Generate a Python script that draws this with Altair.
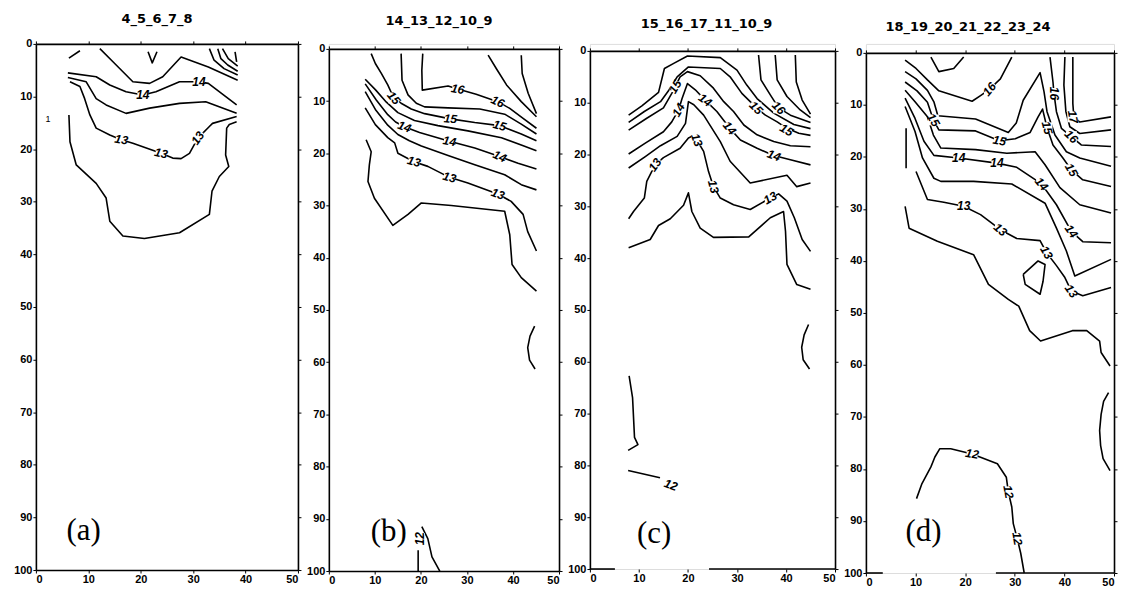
import altair as alt
import pandas as pd

# ---------------- panel (a) ----------------
a_title = "4_5_6_7_8"
a_dash = [(6.3, 2.7), (8.4, 1.3)]
a_vee = [(21.4, 1.5), (22.2, 3.6), (23.1, 1.5)]
a_arc1 = [(33.1, 0.9), (34.0, 3.1), (35.9, 4.7), (38.5, 5.9)]
a_arc2 = [(34.7, 0.9), (35.3, 2.8), (36.6, 4.0), (38.5, 5.2)]
a_arc3 = [(35.6, 0.9), (36.7, 2.8), (38.5, 4.2)]
a_arc4 = [(38.0, 1.5), (38.3, 3.4)]
a_145 = [(12.2, 0.9), (14.7, 3.4), (18.5, 7.2), (21.7, 7.5), (24.2, 6.25), (27.7, 2.5), (32.9, 4.4), (38.5, 6.9)]
a_14 = [(6.1, 5.5), (11.5, 6.25), (14.1, 7.8), (17.2, 9.1), (20.4, 9.7), (22.9, 9.1), (27.4, 7.2), (31.1, 7.2), (32.9, 7.5), (38.3, 11.6)]
a_135 = [(6.1, 6.4), (9.6, 7.2), (11.5, 10.4), (13.4, 11.6), (17.2, 13.2), (21.7, 12.2), (27.4, 11.3), (32.4, 11.0), (38.3, 13.2)]
a_13 = [(6.5, 7.2), (8.4, 8.1), (9.3, 10.4), (10.3, 13.5), (11.5, 16.0), (14.1, 17.3), (16.3, 18.2), (18.5, 18.9),
        (23.9, 20.8), (26.1, 21.7), (27.7, 21.8), (29.3, 20.8), (30.9, 17.9), (33.1, 15.7), (33.7, 15.1), (38.3, 13.8)]
a_125 = [(6.3, 13.5), (6.5, 18.6), (7.7, 23.0), (11.5, 26.5), (13.4, 29.3), (14.1, 33.7), (16.6, 36.5), (20.7, 37.0),
         (27.4, 35.9), (33.1, 32.4), (33.6, 28.0), (35.0, 25.2), (36.8, 23.3), (36.2, 21.1), (36.4, 16.0), (36.9, 15.3), (38.3, 14.8)]
a_labels = [("14", 20.4, 9.7, 0), ("14", 31.1, 7.2, 0), ("13", 16.3, 18.2, 10),
            ("13", 23.9, 20.8, 12), ("13", 30.9, 17.9, 305)]
a_notes = [("1", 2.3, 14.2)]
a_tag = ("(a)", 9.1, 92.6)

# ---------------- panel (b) ----------------
b_title = "14_13_12_10_9"
b_16a = [(34.6, 1.2), (36.4, 3.8), (38.6, 6.9), (41.8, 10.1), (45.1, 13.0)]
b_16b = [(41.8, 1.2), (42.0, 4.7), (43.3, 8.5), (45.1, 12.4)]
b_16 = [(20.4, 0.9), (20.2, 4.1), (20.3, 7.9), (25.9, 7.1), (28.0, 7.7), (32.0, 8.7), (36.7, 10.1), (39.3, 11.4), (42.2, 13.3), (45.1, 15.2)]
b_155 = [(15.7, 0.9), (15.9, 6.0), (17.2, 8.8), (19.0, 10.4), (20.8, 11.1), (25.9, 11.3), (32.8, 11.5), (38.2, 12.5), (41.8, 14.4), (45.1, 16.3)]
b_15 = [(9.2, 0.9), (10.1, 2.8), (11.4, 4.7), (12.8, 6.9), (14.1, 9.4), (15.7, 10.4), (17.9, 11.5), (20.8, 12.4),
        (26.4, 13.4), (31.7, 14.1), (37.1, 14.7), (41.8, 16.3), (45.1, 17.6)]
b_145 = [(7.9, 5.8), (10.1, 7.8), (12.5, 10.2), (15.0, 12.2), (18.6, 13.7), (23.7, 14.7), (30.2, 15.7), (37.5, 17.0), (41.8, 18.4), (45.1, 19.5)]
b_14 = [(7.9, 6.7), (10.3, 9.8), (12.8, 12.6), (14.5, 14.0), (16.4, 14.9), (19.7, 16.0), (26.2, 17.7), (31.7, 19.0),
        (37.1, 20.6), (41.1, 21.9), (45.1, 23.0)]
b_135 = [(7.9, 8.2), (10.1, 11.6), (12.8, 14.6), (15.0, 16.4), (17.5, 17.6), (20.1, 18.6), (25.9, 20.4), (31.7, 22.2),
         (38.2, 24.1), (41.8, 26.0), (45.1, 27.0)]
b_13 = [(7.9, 11.3), (10.1, 14.5), (12.8, 17.0), (14.3, 18.0), (15.0, 20.0), (18.5, 21.6), (21.5, 22.5), (26.2, 24.6),
        (30.2, 25.7), (36.7, 27.8), (39.6, 29.2), (42.2, 31.7), (43.2, 35.0), (45.1, 38.7)]
b_125 = [(8.1, 17.4), (9.2, 19.7), (8.8, 22.2), (8.5, 25.4), (9.9, 28.6), (13.9, 33.8), (17.2, 31.7), (20.1, 29.5),
         (26.6, 30.0), (38.2, 31.1), (39.3, 35.6), (39.8, 41.3), (41.8, 43.8), (45.1, 46.4)]
b_arc = [(44.7, 53.1), (43.7, 55.0), (43.2, 57.2), (43.6, 59.6), (44.8, 61.3)]
b_12a = [(19.4, 96.0), (19.4, 100.0)]
b_12b = [(20.2, 91.5), (21.5, 93.8), (22.4, 97.3), (24.1, 100.0)]
b_labels = [("16", 28.0, 7.7, 10), ("16", 36.7, 10.1, 25), ("15", 14.1, 9.4, 50), ("15", 26.4, 13.4, 5),
            ("15", 37.1, 14.7, 15), ("14", 16.4, 14.9, 20), ("14", 26.2, 17.7, 10), ("14", 37.1, 20.6, 25),
            ("13", 18.5, 21.6, 15), ("13", 26.2, 24.6, 15), ("13", 36.7, 27.8, 20), ("12", 19.7, 93.8, 270)]
b_tag = ("(b)", 13.0, 92.6)

# ---------------- panel (c) ----------------
c_title = "15_16_17_11_10_9"
c_v1 = [(34.4, 0.8), (34.9, 5.6), (36.8, 8.5), (38.5, 11.0), (40.9, 12.4), (45.0, 13.8)]
c_v2 = [(37.8, 0.8), (38.2, 5.6), (40.2, 8.8), (42.9, 11.4), (45.0, 12.9)]
c_v3 = [(41.9, 0.8), (42.1, 6.0), (43.3, 9.5), (45.0, 12.2)]
c_155 = [(7.9, 12.4), (10.6, 10.6), (14.0, 8.0), (15.2, 3.4), (17.1, 2.4), (19.9, 1.0), (26.6, 1.3), (30.0, 3.7),
         (32.0, 6.6), (34.1, 9.2), (37.5, 12.0), (41.6, 14.2), (45.0, 15.0)]
c_15 = [(7.9, 13.8), (11.1, 11.7), (14.4, 9.8), (16.1, 7.6), (17.8, 5.0), (20.1, 3.1), (26.6, 3.4), (28.6, 5.0),
        (31.0, 8.2), (32.7, 9.8), (33.9, 11.0), (35.8, 12.4), (38.2, 13.7), (40.1, 14.9), (42.6, 15.9), (45.0, 16.3)]
c_145 = [(7.9, 15.3), (11.6, 13.0), (15.0, 11.0), (16.7, 8.2), (18.4, 5.0), (19.9, 4.0), (22.5, 4.8), (25.2, 7.2),
         (27.3, 9.8), (29.3, 11.7), (31.4, 14.3), (34.1, 16.2), (37.5, 17.5), (40.9, 18.3), (45.0, 18.5)]
c_14 = [(7.9, 19.9), (11.3, 17.8), (15.0, 15.6), (16.7, 13.7), (18.1, 11.4), (18.8, 9.2), (19.9, 6.3), (21.5, 7.5),
        (23.5, 9.5), (25.9, 11.7), (28.5, 14.9), (30.7, 17.2), (34.1, 18.8), (37.5, 20.2), (40.9, 21.0), (45.0, 22.0)]
c_135 = [(7.9, 22.6), (11.3, 20.4), (14.4, 18.3), (17.8, 16.5), (19.5, 14.0), (20.1, 9.8), (21.2, 10.4), (23.2, 12.4),
         (26.6, 17.5), (28.6, 21.3), (32.7, 25.5), (40.2, 24.0), (42.2, 26.2), (45.0, 25.5)]
c_13 = [(7.9, 32.4), (8.9, 31.0), (11.1, 28.4), (11.6, 25.2), (13.3, 22.0), (15.0, 20.6), (18.4, 18.8), (20.1, 16.8),
        (21.0, 16.4), (21.8, 17.2), (23.2, 19.4), (24.2, 23.3), (25.2, 26.2), (26.6, 28.4), (29.3, 29.7), (32.7, 30.6),
        (36.8, 28.4), (38.5, 27.6), (40.2, 29.0), (41.7, 32.2), (43.3, 36.4), (45.0, 38.7)]
c_125 = [(7.9, 38.0), (12.3, 36.4), (14.0, 33.7), (16.4, 32.4), (19.1, 29.8), (20.1, 27.4), (20.8, 31.0), (22.5, 34.2),
         (25.2, 36.0), (32.4, 35.9), (36.8, 32.2), (39.5, 31.0), (39.9, 34.8), (40.2, 41.2), (42.2, 45.1), (45.0, 46.0)]
c_arc = [(44.6, 52.8), (43.7, 54.8), (43.2, 57.2), (43.5, 59.6), (44.8, 61.4)]
c_left = [(8.0, 62.7), (8.7, 66.9), (9.1, 74.6), (9.8, 76.0), (7.8, 77.1)]
c_12 = [(7.8, 81.0), (14.3, 82.4)]
c_labels = [("15", 17.4, 6.9, 300), ("14", 18.1, 11.4, 300), ("14", 23.5, 9.5, 35), ("15", 33.9, 11.0, 45),
            ("16", 38.5, 11.0, 45), ("14", 28.5, 14.9, 50), ("15", 40.1, 15.3, 30), ("14", 37.5, 20.2, 20),
            ("13", 21.8, 17.2, 70), ("13", 13.3, 22.0, 305), ("13", 25.2, 26.2, 75), ("13", 36.8, 28.4, 330),
            ("12", 16.5, 83.8, 20)]
c_tag = ("(c)", 13.1, 93.3)
c_bottom_border = [(0.0, 5.1), (24.3, 50.0)]

# ---------------- panel (d) ----------------
d_title = "18_19_20_21_22_23_24"
d_16 = [(7.9, 1.4), (10.1, 3.0), (12.4, 5.2), (14.7, 7.3), (21.4, 9.3), (23.1, 8.2), (24.9, 7.0), (27.1, 5.0), (29.4, 0.8)]
d_cup = [(13.1, 0.8), (14.7, 3.6), (17.7, 3.0), (19.7, 0.8)]
d_155 = [(7.9, 3.6), (10.1, 5.0), (12.4, 7.2), (13.7, 9.4), (14.5, 12.1), (22.1, 12.7), (28.7, 15.3), (30.3, 13.5),
         (31.7, 9.1), (35.1, 3.8), (35.9, 7.5), (36.5, 11.3), (38.1, 15.8), (40.4, 19.0), (43.1, 20.2), (49.4, 21.8)]
d_15 = [(7.9, 5.6), (10.3, 7.3), (12.4, 9.5), (13.6, 12.9), (14.7, 14.8), (22.1, 15.0), (26.9, 16.9), (30.1, 16.5),
        (33.1, 15.3), (34.7, 12.3), (35.6, 10.8), (36.5, 14.4), (37.7, 17.7), (39.7, 20.2), (41.4, 22.5), (43.7, 24.4), (49.4, 25.7)]
d_145 = [(7.9, 7.2), (9.9, 9.4), (12.4, 12.3), (13.6, 15.8), (15.1, 18.3), (22.1, 18.6), (28.4, 19.3), (34.1, 19.0),
         (36.1, 21.5), (39.1, 25.9), (43.1, 29.2), (49.4, 30.8)]
d_14 = [(7.9, 8.7), (9.9, 12.6), (11.7, 17.0), (13.7, 19.7), (18.7, 20.2), (26.4, 21.2), (30.4, 22.0), (35.4, 25.2),
        (38.4, 29.2), (41.4, 34.3), (43.7, 36.3), (49.4, 36.5)]
d_135 = [(7.9, 10.3), (9.9, 15.1), (11.4, 20.2), (13.7, 24.1), (15.1, 24.7), (21.7, 24.7), (29.4, 25.2), (36.1, 28.9),
         (38.4, 33.7), (40.4, 38.1), (42.1, 42.9), (49.4, 39.7)]
d_tick = [(8.1, 14.5), (8.1, 22.2)]
d_13 = [(10.1, 22.8), (12.4, 28.2), (15.7, 28.7), (19.7, 29.5), (23.1, 31.1), (27.1, 34.0), (30.4, 35.7), (35.1, 36.1),
        (36.4, 38.4), (38.4, 40.9), (40.1, 43.2), (41.4, 45.8), (43.7, 46.7), (49.4, 45.1)]
d_125 = [(7.9, 29.5), (8.7, 33.7), (14.4, 36.2), (21.7, 38.8), (24.7, 44.5), (28.7, 47.4), (30.8, 48.7), (33.0, 53.4),
         (35.2, 55.4), (41.6, 53.4), (44.5, 53.4), (47.1, 55.4), (47.4, 57.6), (49.2, 60.2)]
d_loop = [(31.7, 42.6), (34.7, 40.0), (36.1, 40.7), (35.7, 43.9), (35.1, 46.4), (32.1, 44.5), (31.7, 42.6)]
d_17 = [(41.7, 0.8), (41.7, 9.7), (41.9, 12.3), (43.1, 13.3), (49.4, 12.3)]
d_165 = [(40.1, 0.8), (39.9, 6.2), (40.3, 11.3), (41.1, 14.2), (43.1, 15.5), (49.4, 14.8)]
d_16r = [(37.1, 0.8), (37.7, 5.6), (37.9, 7.8), (38.4, 11.3), (39.4, 14.5), (41.4, 16.1), (43.4, 17.7), (49.4, 18.0)]
d_arc = [(48.9, 65.3), (47.9, 67.0), (47.4, 69.5), (47.1, 72.6), (47.3, 75.5), (47.8, 78.0), (49.2, 80.3)]
d_12 = [(10.2, 85.7), (11.3, 82.8), (13.1, 79.6), (13.9, 77.7), (14.9, 76.1), (17.1, 76.1), (21.4, 77.1), (26.5, 79.0),
        (28.3, 81.6), (28.7, 84.4), (29.4, 87.3), (29.7, 90.5), (30.5, 93.4), (31.2, 96.2), (31.9, 100.0)]
d_labels = [("16", 24.9, 7.0, 310), ("16", 37.9, 7.8, 90), ("17", 41.7, 12.3, 80), ("16", 41.4, 16.1, 45),
            ("15", 13.6, 12.9, 60), ("15", 26.9, 16.9, 10), ("15", 36.5, 14.4, 75), ("15", 41.4, 22.5, 60),
            ("14", 18.7, 20.2, 0), ("14", 26.4, 21.2, 0), ("14", 35.4, 25.2, 50), ("14", 41.4, 34.3, 55),
            ("13", 19.7, 29.5, 0), ("13", 27.1, 34.0, 40), ("13", 36.4, 38.4, 60), ("13", 41.4, 45.8, 55),
            ("12", 21.4, 77.1, 10), ("12", 28.7, 84.4, 80), ("12", 30.5, 93.4, 80)]
d_tag = ("(d)", 11.6, 92.1)
d_bottom_border = [(0.0, 3.4), (26.2, 50.0)]

x_ticks = [0, 10, 20, 30, 40, 50]
y_ticks = [0, 10, 20, 30, 40, 50, 60, 70, 80, 90, 100]

SANS = "Liberation Sans"
TITLE_FONT = "DejaVu Sans"
SERIF = "Liberation Serif"
TOP0 = 42  # common top of the row (px)


def lines_frame(lines):
    rows = []
    for k, pts in enumerate(lines):
        for i, (x, y) in enumerate(pts):
            rows.append({"line": k, "i": i, "x": x, "y": y})
    return pd.DataFrame(rows)


def panel(title, lines, labels, tag, width, top, bottom, tdx, tdy, border=None, notes=None):
    H = bottom - TOP0
    off = top - TOP0
    xs = alt.Scale(domain=[0, 50], nice=False, zero=False)
    ys = alt.Scale(domain=[0, 100], range=[off, H], nice=False, zero=False)
    common = dict(domainColor="black", domainWidth=1.6, tickColor="black", tickWidth=1,
                  tickSize=3, grid=False, title=None)
    x_bot = alt.Axis(orient="bottom", values=x_ticks, labelPadding=1, domain=border is None,
                     labelFont=SANS, labelFontSize=11, labelFontWeight="bold", labelColor="black", **common)
    y_left = alt.Axis(orient="left", values=y_ticks, labelPadding=1,
                      labelFont=SANS, labelFontSize=11, labelFontWeight="bold", labelColor="black", **common)
    x_top = alt.Axis(orient="top", values=x_ticks, labels=False, offset=-off, **common)
    y_right = alt.Axis(orient="right", values=y_ticks, labels=False, **common)

    ldf = lines_frame(lines)
    lab = pd.DataFrame(labels, columns=["t", "x", "y", "a"])

    contour = alt.Chart(ldf).mark_line(color="black", strokeWidth=1.6, strokeJoin="round").encode(
        x=alt.X("x:Q", scale=xs, axis=x_bot),
        y=alt.Y("y:Q", scale=ys, axis=y_left),
        detail="line:N",
        order="i:Q",
    )
    halo = alt.Chart(lab).mark_point(shape="square", filled=True, color="white", size=120,
                                     opacity=1, strokeWidth=0).encode(
        x=alt.X("x:Q", scale=xs, axis=x_top),
        y=alt.Y("y:Q", scale=ys, axis=y_right),
    )
    text = alt.Chart(lab).mark_text(font=SANS, fontSize=12, fontWeight="bold", fontStyle="italic",
                                    color="black", align="center", baseline="middle").encode(
        x=alt.X("x:Q", scale=xs, axis=None),
        y=alt.Y("y:Q", scale=ys, axis=None),
        text="t:N",
        angle=alt.Angle("a:Q", scale=None),
    )
    tdf = pd.DataFrame([{"t": tag[0], "x": tag[1], "y": tag[2]}])
    tagc = alt.Chart(tdf).mark_text(font=SERIF, fontSize=31, color="black",
                                    align="center", baseline="middle").encode(
        x=alt.X("x:Q", scale=xs, axis=None),
        y=alt.Y("y:Q", scale=ys, axis=None),
        text="t:N",
    )
    layers = [contour, halo, text, tagc]
    if border is not None:
        bdf = pd.DataFrame([{"x": s, "x2": e, "y": 100} for s, e in border])
        layers.append(alt.Chart(bdf).mark_rule(color="black", strokeWidth=1.6).encode(
            x=alt.X("x:Q", scale=xs, axis=None), x2="x2:Q",
            y=alt.Y("y:Q", scale=ys, axis=None)))
    if notes is not None:
        ndf = pd.DataFrame(notes, columns=["t", "x", "y"])
        layers.append(alt.Chart(ndf).mark_text(font=SANS, fontSize=9, color="black").encode(
            x=alt.X("x:Q", scale=xs, axis=None),
            y=alt.Y("y:Q", scale=ys, axis=None),
            text="t:N"))
    return alt.layer(*layers).resolve_axis(x="independent", y="independent").properties(
        width=width, height=H,
        title=alt.TitleParams(title, font=TITLE_FONT, fontSize=13, fontWeight="bold", color="black",
                              anchor="middle", offset=12, dx=tdx, dy=tdy),
    )


pa = panel(a_title, [a_dash, a_vee, a_arc1, a_arc2, a_arc3, a_arc4, a_145, a_14, a_135, a_13, a_125],
           a_labels, a_tag, 263, 42, 570, -10, 0, notes=a_notes)
pb = panel(b_title, [b_16a, b_16b, b_16, b_155, b_15, b_145, b_14, b_135, b_13, b_125, b_arc, b_12a, b_12b],
           b_labels, b_tag, 231, 47, 571, -5, -3)
pc = panel(c_title, [c_v1, c_v2, c_v3, c_155, c_15, c_145, c_14, c_135, c_13, c_125, c_arc, c_left, c_12],
           c_labels, c_tag, 246, 49, 569, -6, -1, border=c_bottom_border)
pd_ = panel(d_title, [d_16, d_cup, d_155, d_15, d_145, d_14, d_135, d_tick, d_13, d_125, d_loop, d_17, d_165,
                      d_16r, d_arc, d_12],
            d_labels, d_tag, 249, 51, 573, -22, 2, border=d_bottom_border)

chart = alt.hconcat(pa, pb, pc, pd_, spacing=31, bounds="flush").properties(
    padding={"left": 5, "top": 3, "right": 0, "bottom": 0}
).configure_view(stroke=None).configure(background="white")

chart.save("out.html", embed_options={"renderer": "svg", "actions": False})
